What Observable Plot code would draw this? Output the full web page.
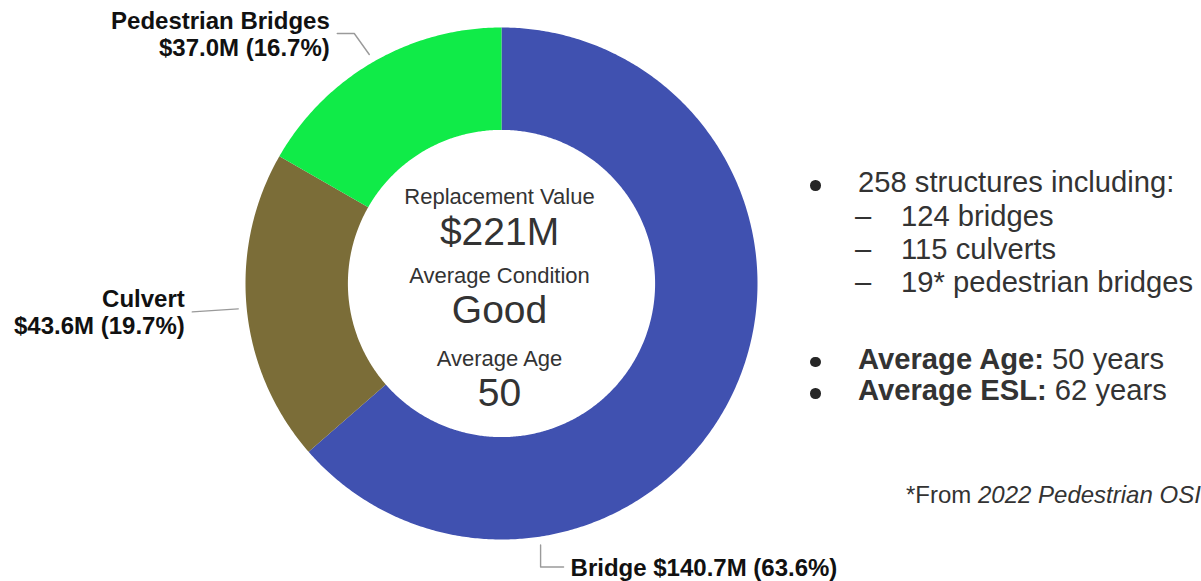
<!DOCTYPE html>
<html><head><meta charset="utf-8">
<script src="https://cdn.jsdelivr.net/npm/d3@7"></script>
<script src="https://cdn.jsdelivr.net/npm/@observablehq/plot@0.6"></script>
<style>
html,body{margin:0;padding:0;background:#fff;}
#wrap{position:relative;width:1201px;height:581px;overflow:hidden;font-family:"Liberation Sans",Arial,sans-serif;}
#chart{position:absolute;left:0;top:0;}
.t{position:absolute;white-space:nowrap;line-height:1;color:#333;}
.dot{position:absolute;width:10.5px;height:10.5px;border-radius:50%;background:#262626;}
</style></head><body>
<div id="wrap"><div id="chart"></div></div>
<script>
// ---- data ----
const categories = ["Bridge", "Culvert", "Pedestrian Bridges"];
const values = [140.7, 43.6, 37.0];           // $M replacement value
const colors = ["#4051b0", "#7b6d38", "#10eb48"];
const centerTitles = ["Replacement Value", "Average Condition", "Average Age"];
const centerValues = ["$221M", "Good", "50"];
const totalStructures = "258";
const structureCounts = ["124", "115", "19*"];
const structureKinds = ["bridges", "culverts", "pedestrian bridges"];
const summaryKeys = ["Average Age:", "Average ESL:"];
const summaryValues = ["50 years", "62 years"];
const footnotePrefix = "*From ";
const footnoteSource = "2022 Pedestrian OSI";

// ---- layout ----
const W = 1201, H = 581, CX = 501, CY = 283, R = 256, HOLE = 0.6;
const px2x = p => p / R, px2y = p => -p / R;

const data = categories.map((name, i) => ({name, value: values[i]}));
const total = d3.sum(values);
const arcs = d3.pie().sort(null).value(d => d.value)(data);

// slice outlines in data units (radius 1 = outer edge)
const slicePts = [];
for (const a of arcs) {
  const n = Math.max(2, Math.ceil((a.endAngle - a.startAngle) / (Math.PI / 360)));
  const ts = d3.range(n + 1).map(i => a.startAngle + (a.endAngle - a.startAngle) * i / n);
  const name = a.data.name;
  ts.forEach(t => slicePts.push({name, x: Math.sin(t), y: Math.cos(t)}));
  ts.slice().reverse().forEach(t => slicePts.push({name, x: HOLE * Math.sin(t), y: HOLE * Math.cos(t)}));
  slicePts.push({name, x: Math.sin(ts[0]), y: Math.cos(ts[0])});
}

// leader-line layout (angles in degrees clockwise from top, offsets in px)
const leaderLayout = {
  "Bridge": {angle: 171.5, segs: [[0, 22], [23, 0]], anchor: "start", oneLine: true},
  "Culvert": {angle: 264.5, segs: [[-46, 3]], anchor: "end", oneLine: false},
  "Pedestrian Bridges": {angle: 330, segs: [[-15, -21], [-17, 0]], anchor: "end", oneLine: false}
};
const fmtPct = d3.format(".1f");
const leaderPts = [], labelRows = [];
for (const d of data) {
  const L = leaderLayout[d.name];
  const t = L.angle * Math.PI / 180, rr = 1.033;
  let x = rr * Math.sin(t), y = rr * Math.cos(t);
  leaderPts.push({name: d.name, x, y});
  for (const [dx, dy] of L.segs) { x += px2x(dx); y += px2y(dy); leaderPts.push({name: d.name, x, y}); }
  const val = `$${d.value.toFixed(1)}M (${fmtPct(d.value / total * 100)}%)`;
  labelRows.push({name: d.name, x, y, anchor: L.anchor,
    text: L.oneLine ? `${d.name} ${val}` : `${d.name}\n${val}`});
}

const titleOffsets = [-80, -1, 82], valueOffsets = [-39, 39, 122];
const titleRows = centerTitles.map((t, i) => ({text: t, x: 0, y: px2y(titleOffsets[i])}));
const valueRows = centerValues.map((t, i) => ({text: t, x: 0, y: px2y(valueOffsets[i])}));

const labelMarks = ["start", "end"].map(anchor => Plot.text(labelRows.filter(r => r.anchor === anchor), {
  x: "x", y: "y", text: "text", textAnchor: anchor, lineAnchor: "middle",
  dx: anchor === "start" ? 7 : -7.5, fontSize: 24, fontWeight: "bold", lineHeight: 1.125, fill: "#111"
}));

const plot = Plot.plot({
  width: W, height: H, margin: 0,
  x: {domain: [px2x(-CX), px2x(W - CX)], axis: null},
  y: {domain: [-px2x(H - CY), px2x(CY)], axis: null},
  color: {domain: categories, range: colors},
  style: {fontFamily: "'Liberation Sans', Arial, sans-serif", background: "white"},
  marks: [
    Plot.line(slicePts, {x: "x", y: "y", z: "name", fill: "name", stroke: "none", curve: "linear"}),
    Plot.line(leaderPts, {x: "x", y: "y", z: "name", stroke: "#9a9a9a", strokeWidth: 1.4, curve: "linear"}),
    ...labelMarks,
    Plot.text(titleRows, {x: "x", y: "y", text: "text", lineAnchor: "bottom", dx: -2, fontSize: 22, fill: "#333"}),
    Plot.text(valueRows, {x: "x", y: "y", text: "text", lineAnchor: "bottom", dx: -2, fontSize: 39, fill: "#333"})
  ]
});
document.getElementById("chart").appendChild(plot);

// ---- side notes (HTML) ----
const wrap = document.getElementById("wrap");
function place(html, x, baseline, size) {
  const el = document.createElement("div");
  el.className = "t";
  el.style.left = x + "px";
  el.style.fontSize = size + "px";
  el.style.top = (baseline - 0.8465 * size) + "px";
  el.innerHTML = html;
  wrap.appendChild(el);
}
function dot(cx, cy) {
  const el = document.createElement("div");
  el.className = "dot";
  el.style.left = (cx - 5.25) + "px";
  el.style.top = (cy - 5.25) + "px";
  wrap.appendChild(el);
}
const FS = 29.2;
dot(815.5, 185.5);
place(`${totalStructures} structures including:`, 858, 193, FS);
const subBase = [226.5, 260, 293];
structureCounts.forEach((c, i) => {
  place("–", 855, subBase[i], FS);
  place(`${c} ${structureKinds[i]}`, 901, subBase[i], FS);
});
const sumBase = [369.5, 401];
summaryKeys.forEach((k, i) => {
  dot(815.5, sumBase[i] - 7.7);
  place(`<b>${k}</b> ${summaryValues[i]}`, 858, sumBase[i], FS);
});
place(`${footnotePrefix}<i>${footnoteSource}</i>`, 906, 503, 24);
</script>
</body></html>
